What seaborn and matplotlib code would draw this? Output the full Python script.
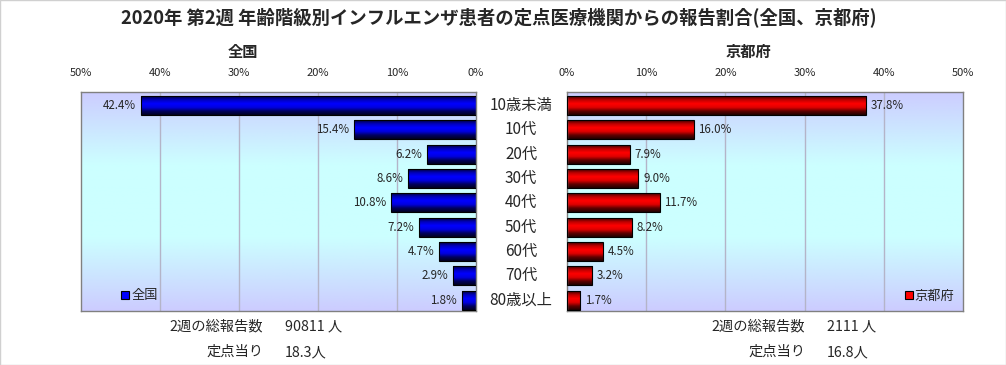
import numpy as np
import pandas as pd
import matplotlib
matplotlib.use("Agg")
import matplotlib.pyplot as plt
import seaborn as sns
from matplotlib.patches import Patch
from matplotlib.colors import LinearSegmentedColormap

categories = ["10歳未満", "10代", "20代", "30代", "40代", "50代", "60代", "70代", "80歳以上"]
national = [42.4, 15.4, 6.2, 8.6, 10.8, 7.2, 4.7, 2.9, 1.8]
kyoto = [37.8, 16.0, 7.9, 9.0, 11.7, 8.2, 4.5, 3.2, 1.7]
ticks = [0, 10, 20, 30, 40, 50]
tick_labels = ["0%", "10%", "20%", "30%", "40%", "50%"]
title = "2020年 第2週 年齢階級別インフルエンザ患者の定点医療機関からの報告割合(全国、京都府)"
panel_titles = ["全国", "京都府"]
nat_total = ["2週の総報告数", "90811 人"]
nat_per = ["定点当り", "18.3人"]
kyo_total = ["2週の総報告数", "2111 人"]
kyo_per = ["定点当り", "16.8人"]

sns.set_theme(style="white")
plt.rcParams["font.family"] = ["Noto Sans CJK JP", "DejaVu Sans"]

W, H = 1006, 365
fig = plt.figure(figsize=(W / 100, H / 100), dpi=100)

def fx(px):
    return px / W

def fy(py):
    return 1 - py / H

axL = fig.add_axes([fx(81), fy(311), fx(476 - 81), (311 - 92) / H])
axR = fig.add_axes([fx(567), fy(311), fx(963 - 567), (311 - 92) / H])

df_n = pd.DataFrame({"cat": categories, "val": national})
df_k = pd.DataFrame({"cat": categories, "val": kyoto})

bg = LinearSegmentedColormap.from_list("bg", ["#CCCCFF", "#CCFFFF", "#CCFFFF", "#CCCCFF"])
blue_cm = LinearSegmentedColormap.from_list("bl", ["#000040", "#0000C0", "#0000FF", "#0000E0", "#000060", "#000020"])
red_cm = LinearSegmentedColormap.from_list("rd", ["#400000", "#C00000", "#FF0000", "#E00000", "#600000", "#200000"])

def limits(ax, left):
    ax.set_xlim(50, 0) if left else ax.set_xlim(0, 50)
    ax.set_ylim(8.45, -0.555)

def style_panel(ax, df, cmap, color, left):
    sns.barplot(data=df, x="val", y="cat", orient="h", ax=ax, color=color,
                width=0.78, edgecolor="black", linewidth=0.8, zorder=3)
    limits(ax, left)
    grad = np.linspace(0, 1, 256).reshape(-1, 1)
    ax.imshow(grad, extent=[0, 1, 0, 1], transform=ax.transAxes, cmap=bg,
              aspect="auto", zorder=0)
    limits(ax, left)
    for t in [10, 20, 30, 40]:
        ax.axvline(t, color="#B4B4C8", lw=1, zorder=1)
    g = np.linspace(0, 1, 64).reshape(-1, 1)
    for p in list(ax.patches):
        x0, y0 = p.get_x(), p.get_y()
        w, h = p.get_width(), p.get_height()
        im = ax.imshow(g, extent=[x0, x0 + w, y0 + h, y0], cmap=cmap,
                       aspect="auto", zorder=2.5, origin="upper")
        im.set_clip_path(p)
        p.set_facecolor("none")
    limits(ax, left)
    ax.set_ylabel("")
    ax.set_xlabel("")
    ax.set_yticks([])
    ax.set_xticks(ticks)
    ax.set_xticklabels(tick_labels, fontsize=8)
    ax.xaxis.tick_top()
    ax.tick_params(axis="x", length=0, pad=10, labelsize=8)
    for s in ax.spines.values():
        s.set_visible(True)
        s.set_color("#808080")
        s.set_linewidth(1)
    for i, v in enumerate(df["val"]):
        if left:
            ax.text(v + 0.6, i, f"{v:.1f}%", ha="right", va="center", fontsize=8.3, zorder=5)
        else:
            ax.text(v + 0.6, i, f"{v:.1f}%", ha="left", va="center", fontsize=8.3, zorder=5)

style_panel(axL, df_n, blue_cm, "#0000FF", True)
style_panel(axR, df_k, red_cm, "#FF0000", False)

hL = [Patch(facecolor="#0000FF", edgecolor="black", linewidth=0.8)]
axL.legend(hL, ["全国"], loc="lower left", frameon=False, fontsize=9.5,
           handlelength=0.6, handleheight=0.6, handletextpad=0.15,
           borderaxespad=0.25, bbox_to_anchor=(0.08, 0.0))
hR = [Patch(facecolor="#FF0000", edgecolor="black", linewidth=0.8)]
axR.legend(hR, ["京都府"], loc="lower right", frameon=False, fontsize=9.5,
           handlelength=0.6, handleheight=0.6, handletextpad=0.15,
           borderaxespad=0.25, bbox_to_anchor=(1.0, 0.0))

for i, c in enumerate(categories):
    yc = 92 + (i + 0.555) * (311 - 92) / 9.005
    fig.text(fx(521), fy(yc), c, ha="center", va="center", fontsize=11)

fig.text(fx(499), fy(17), title, ha="center", va="center", fontsize=13.2, fontweight="bold")
fig.text(fx(243), fy(52), panel_titles[0], ha="center", va="center", fontsize=11, fontweight="bold")
fig.text(fx(748), fy(52), panel_titles[1], ha="center", va="center", fontsize=11, fontweight="bold")

fs = 10.3
fig.text(fx(263), fy(326), nat_total[0], ha="right", va="center", fontsize=fs)
fig.text(fx(285), fy(326), nat_total[1], ha="left", va="center", fontsize=fs)
fig.text(fx(263), fy(352), nat_per[0], ha="right", va="center", fontsize=fs)
fig.text(fx(285), fy(352), nat_per[1], ha="left", va="center", fontsize=fs)
fig.text(fx(805), fy(326), kyo_total[0], ha="right", va="center", fontsize=fs)
fig.text(fx(827), fy(326), kyo_total[1], ha="left", va="center", fontsize=fs)
fig.text(fx(805), fy(352), kyo_per[0], ha="right", va="center", fontsize=fs)
fig.text(fx(827), fy(352), kyo_per[1], ha="left", va="center", fontsize=fs)

fig.patches.append(matplotlib.patches.Rectangle((0, 0), 1, 1, transform=fig.transFigure,
                   fill=False, edgecolor="#D0D0D0", linewidth=1))

fig.savefig("out.png", dpi=100, facecolor="white")
